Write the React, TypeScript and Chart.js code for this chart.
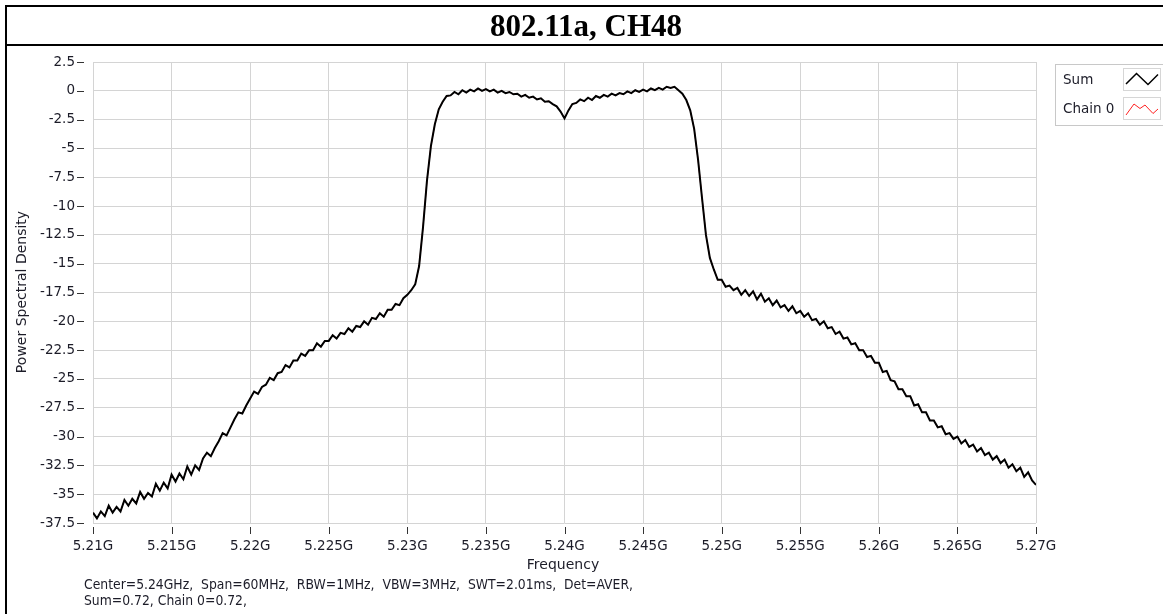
import { useEffect, useRef } from 'react';
import { Chart, registerables } from 'chart.js';

Chart.register(...registerables);

const TITLE = '802.11a, CH48';
const X_AXIS_TITLE = 'Frequency';
const Y_AXIS_TITLE = 'Power Spectral Density';
const INFO_LINE_1 = 'Center=5.24GHz,  Span=60MHz,  RBW=1MHz,  VBW=3MHz,  SWT=2.01ms,  Det=AVER,';
const INFO_LINE_2 = 'Sum=0.72, Chain 0=0.72,';
const SERIES_NAMES = ['Sum', 'Chain 0'];
const SERIES_COLORS = ['#000000', '#ff2020'];

// sweep: 5210 MHz .. 5270 MHz, 0.25 MHz per point
const START_MHZ = 5210;
const STEP_MHZ = 0.25;

const X_TICKS_MHZ = [5210, 5215, 5220, 5225, 5230, 5235, 5240, 5245, 5250, 5255, 5260, 5265, 5270];
const Y_TICKS = [2.5, 0, -2.5, -5, -7.5, -10, -12.5, -15, -17.5, -20, -22.5, -25, -27.5, -30, -32.5, -35, -37.5];

const sumValues = [
  -36.6, -37.1, -36.5, -36.9,
  -36.0, -36.6, -36.1, -36.5,
  -35.5, -36.0, -35.4, -35.8,
  -34.8, -35.4, -34.9, -35.2,
  -34.1, -34.7, -34.0, -34.5,
  -33.3, -33.9, -33.2, -33.7,
  -32.6, -33.3, -32.5, -32.9,
  -31.9, -31.4, -31.7, -31.0,
  -30.4, -29.7, -29.9, -29.2,
  -28.5, -27.9, -28.0, -27.3,
  -26.7, -26.1, -26.3, -25.7,
  -25.5, -24.9, -25.1, -24.5,
  -24.4, -23.8, -24.0, -23.4,
  -23.4, -22.8, -23.0, -22.5,
  -22.5, -21.9, -22.2, -21.7,
  -21.7, -21.2, -21.5, -21.0,
  -21.1, -20.6, -20.9, -20.4,
  -20.5, -20.0, -20.3, -19.7,
  -19.8, -19.3, -19.6, -19.0,
  -19.0, -18.5, -18.6, -18.0,
  -17.7, -17.3, -16.8, -15.2,
  -11.8, -7.8, -4.8, -2.9,
  -1.6, -0.95, -0.45, -0.4,
  -0.1, -0.3, 0.05, -0.15,
  0.1, -0.05, 0.2, 0.0,
  0.15, -0.05, 0.1, -0.15,
  0.0, -0.2, -0.1, -0.3,
  -0.25, -0.5, -0.35, -0.6,
  -0.5, -0.75, -0.65, -0.95,
  -0.9, -1.15, -1.35, -1.8,
  -2.4, -1.7, -1.15, -1.05,
  -0.75, -0.9, -0.6, -0.8,
  -0.45, -0.6, -0.35, -0.5,
  -0.25, -0.4, -0.2, -0.3,
  -0.05, -0.2, 0.05, -0.1,
  0.1, -0.05, 0.2, 0.05,
  0.25, 0.1, 0.35, 0.25,
  0.35, 0.05, -0.25, -0.8,
  -1.7, -3.3, -6.0, -9.3,
  -12.5, -14.5, -15.5, -16.4,
  -16.4, -17.0, -16.9, -17.3,
  -17.1, -17.7, -17.3, -17.8,
  -17.4, -18.1, -17.6, -18.3,
  -18.0, -18.6, -18.2, -18.8,
  -18.6, -19.1, -18.7, -19.3,
  -19.1, -19.6, -19.3, -19.9,
  -19.8, -20.3, -20.0, -20.6,
  -20.5, -21.1, -20.9, -21.5,
  -21.4, -22.0, -21.9, -22.5,
  -22.5, -23.1, -23.0, -23.6,
  -23.6, -24.4, -24.3, -25.1,
  -25.2, -25.9, -25.9, -26.5,
  -26.5, -27.3, -27.2, -27.9,
  -27.9, -28.6, -28.6, -29.2,
  -29.1, -29.8, -29.7, -30.2,
  -30.0, -30.6, -30.3, -30.9,
  -30.7, -31.3, -31.0, -31.6,
  -31.4, -32.0, -31.7, -32.3,
  -32.0, -32.7, -32.4, -33.0,
  -32.7, -33.5, -33.1, -33.8,
  -34.2,
];

// Chain 0 reads identical to Sum (Sum=0.72, Chain 0=0.72)
const chain0Values = sumValues.slice();

const FONT = '"DejaVu Sans", Verdana, sans-serif';
const TEXT_COLOR = '#1c1c28';

const toPoints = (vals: number[]) => vals.map((y, i) => ({ x: START_MHZ + i * STEP_MHZ, y }));

const decorPlugin = {
  id: 'decor',
  beforeDraw(chart: any) {
    const ctx = chart.ctx;
    ctx.save();
    ctx.fillStyle = '#ffffff';
    ctx.fillRect(0, 0, chart.width, chart.height);
    ctx.restore();
  },
  afterDraw(chart: any) {
    const { ctx, scales } = chart;
    const W = chart.width;
    const H = chart.height;
    ctx.save();
    // table frame
    ctx.fillStyle = '#000';
    ctx.fillRect(5, 5, W - 5, 2);
    ctx.fillRect(5, 5, 2, H - 5);
    ctx.fillRect(5, 44, W - 5, 2);
    // title
    ctx.font = 'bold 31px "Liberation Serif", "Times New Roman", serif';
    ctx.textAlign = 'center';
    ctx.textBaseline = 'middle';
    ctx.fillText(TITLE, 586, 28);

    // tick dashes
    ctx.strokeStyle = '#333';
    ctx.lineWidth = 1;
    Y_TICKS.forEach((v) => {
      const y = Math.round(scales.y.getPixelForValue(v)) + 0.5;
      ctx.beginPath();
      ctx.moveTo(77, y);
      ctx.lineTo(84, y);
      ctx.stroke();
    });
    X_TICKS_MHZ.forEach((v) => {
      const x = Math.round(scales.x.getPixelForValue(v)) + 0.5;
      ctx.beginPath();
      ctx.moveTo(x, 527);
      ctx.lineTo(x, 534);
      ctx.stroke();
    });

    // axis titles
    ctx.fillStyle = TEXT_COLOR;
    ctx.font = '14px ' + FONT;
    ctx.textAlign = 'center';
    ctx.textBaseline = 'middle';
    ctx.fillText(X_AXIS_TITLE, 563, 565);
    ctx.save();
    ctx.translate(22, 292);
    ctx.rotate(-Math.PI / 2);
    ctx.fillText(Y_AXIS_TITLE, 0, 0);
    ctx.restore();

    // info lines (fitted to the reference width)
    ctx.font = '13.5px ' + FONT;
    ctx.textAlign = 'left';
    const w1 = ctx.measureText(INFO_LINE_1).width;
    const sx = 549 / w1;
    ctx.save();
    ctx.translate(84, 0);
    ctx.scale(sx, 1);
    ctx.fillText(INFO_LINE_1, 0, 585);
    ctx.fillText(INFO_LINE_2, 0, 601);
    ctx.restore();

    // legend
    ctx.font = '13.5px ' + FONT;
    ctx.strokeStyle = '#c8c8c8';
    ctx.lineWidth = 1;
    ctx.strokeRect(1055.5, 64.5, 120, 61);
    ctx.fillStyle = TEXT_COLOR;
    ctx.fillText(SERIES_NAMES[0], 1063, 80);
    ctx.fillText(SERIES_NAMES[1], 1063, 109);
    ctx.strokeStyle = '#d6d6d6';
    ctx.fillStyle = '#fff';
    ctx.fillRect(1123, 68, 38, 23);
    ctx.strokeRect(1123.5, 68.5, 37, 22);
    ctx.fillRect(1123, 97, 38, 23);
    ctx.strokeRect(1123.5, 97.5, 37, 22);
    ctx.lineWidth = 1.5;
    ctx.strokeStyle = SERIES_COLORS[0];
    ctx.beginPath();
    ctx.moveTo(1126, 84);
    ctx.lineTo(1136.5, 73.5);
    ctx.lineTo(1148, 84.5);
    ctx.lineTo(1158, 74.5);
    ctx.stroke();
    ctx.lineWidth = 1;
    ctx.strokeStyle = SERIES_COLORS[1];
    ctx.beginPath();
    ctx.moveTo(1126, 115);
    ctx.lineTo(1134, 104);
    ctx.lineTo(1140, 108.5);
    ctx.lineTo(1145, 105);
    ctx.lineTo(1153, 113.5);
    ctx.lineTo(1158, 109);
    ctx.stroke();
    ctx.restore();
  },
};

export default function App() {
  const canvasRef = useRef<HTMLCanvasElement | null>(null);

  useEffect(() => {
    if (!canvasRef.current) return;
    const chart = new Chart(canvasRef.current, {
      type: 'line',
      data: {
        datasets: [
          {
            label: SERIES_NAMES[0],
            data: toPoints(sumValues),
            borderColor: SERIES_COLORS[0],
            borderWidth: 2,
            pointRadius: 0,
            tension: 0,
            fill: false,
          },
          {
            label: SERIES_NAMES[1],
            data: toPoints(chain0Values),
            borderColor: SERIES_COLORS[1],
            borderWidth: 1,
            pointRadius: 0,
            tension: 0,
            fill: false,
          },
        ],
      },
      options: {
        responsive: false,
        animation: false,
        events: [],
        layout: { padding: { top: 62, right: 127, left: 0, bottom: 0 } },
        plugins: { legend: { display: false }, tooltip: { enabled: false }, title: { display: false } },
        scales: {
          x: {
            type: 'linear',
            min: 5210,
            max: 5270,
            afterBuildTicks: (s: any) => {
              s.ticks = X_TICKS_MHZ.map((value) => ({ value }));
            },
            afterFit: (s: any) => {
              s.height = 91;
            },
            ticks: {
              callback: (v: any) => String(Number(v) / 1000) + 'G',
              font: { family: FONT, size: 13.5 },
              color: TEXT_COLOR,
              padding: 15,
              maxRotation: 0,
              autoSkip: false,
            },
            grid: { color: '#d4d4d4', lineWidth: 1, drawTicks: false },
            border: { display: false },
          },
          y: {
            type: 'linear',
            min: -37.5,
            max: 2.5,
            afterBuildTicks: (s: any) => {
              s.ticks = Y_TICKS.map((value) => ({ value }));
            },
            afterFit: (s: any) => {
              s.width = 93;
            },
            ticks: {
              callback: (v: any) => String(v),
              font: { family: FONT, size: 13.5 },
              color: TEXT_COLOR,
              padding: 18,
              autoSkip: false,
            },
            grid: { color: '#d4d4d4', lineWidth: 1, drawTicks: false },
            border: { display: false },
          },
        },
      },
      plugins: [decorPlugin],
    });
    return () => chart.destroy();
  }, []);

  return (
    <div style={{ position: 'fixed', left: 0, top: 0, width: 1163, height: 614, background: '#fff' }}>
      <canvas ref={canvasRef} width={1163} height={614} style={{ display: 'block', width: 1163, height: 614 }} />
    </div>
  );
}
